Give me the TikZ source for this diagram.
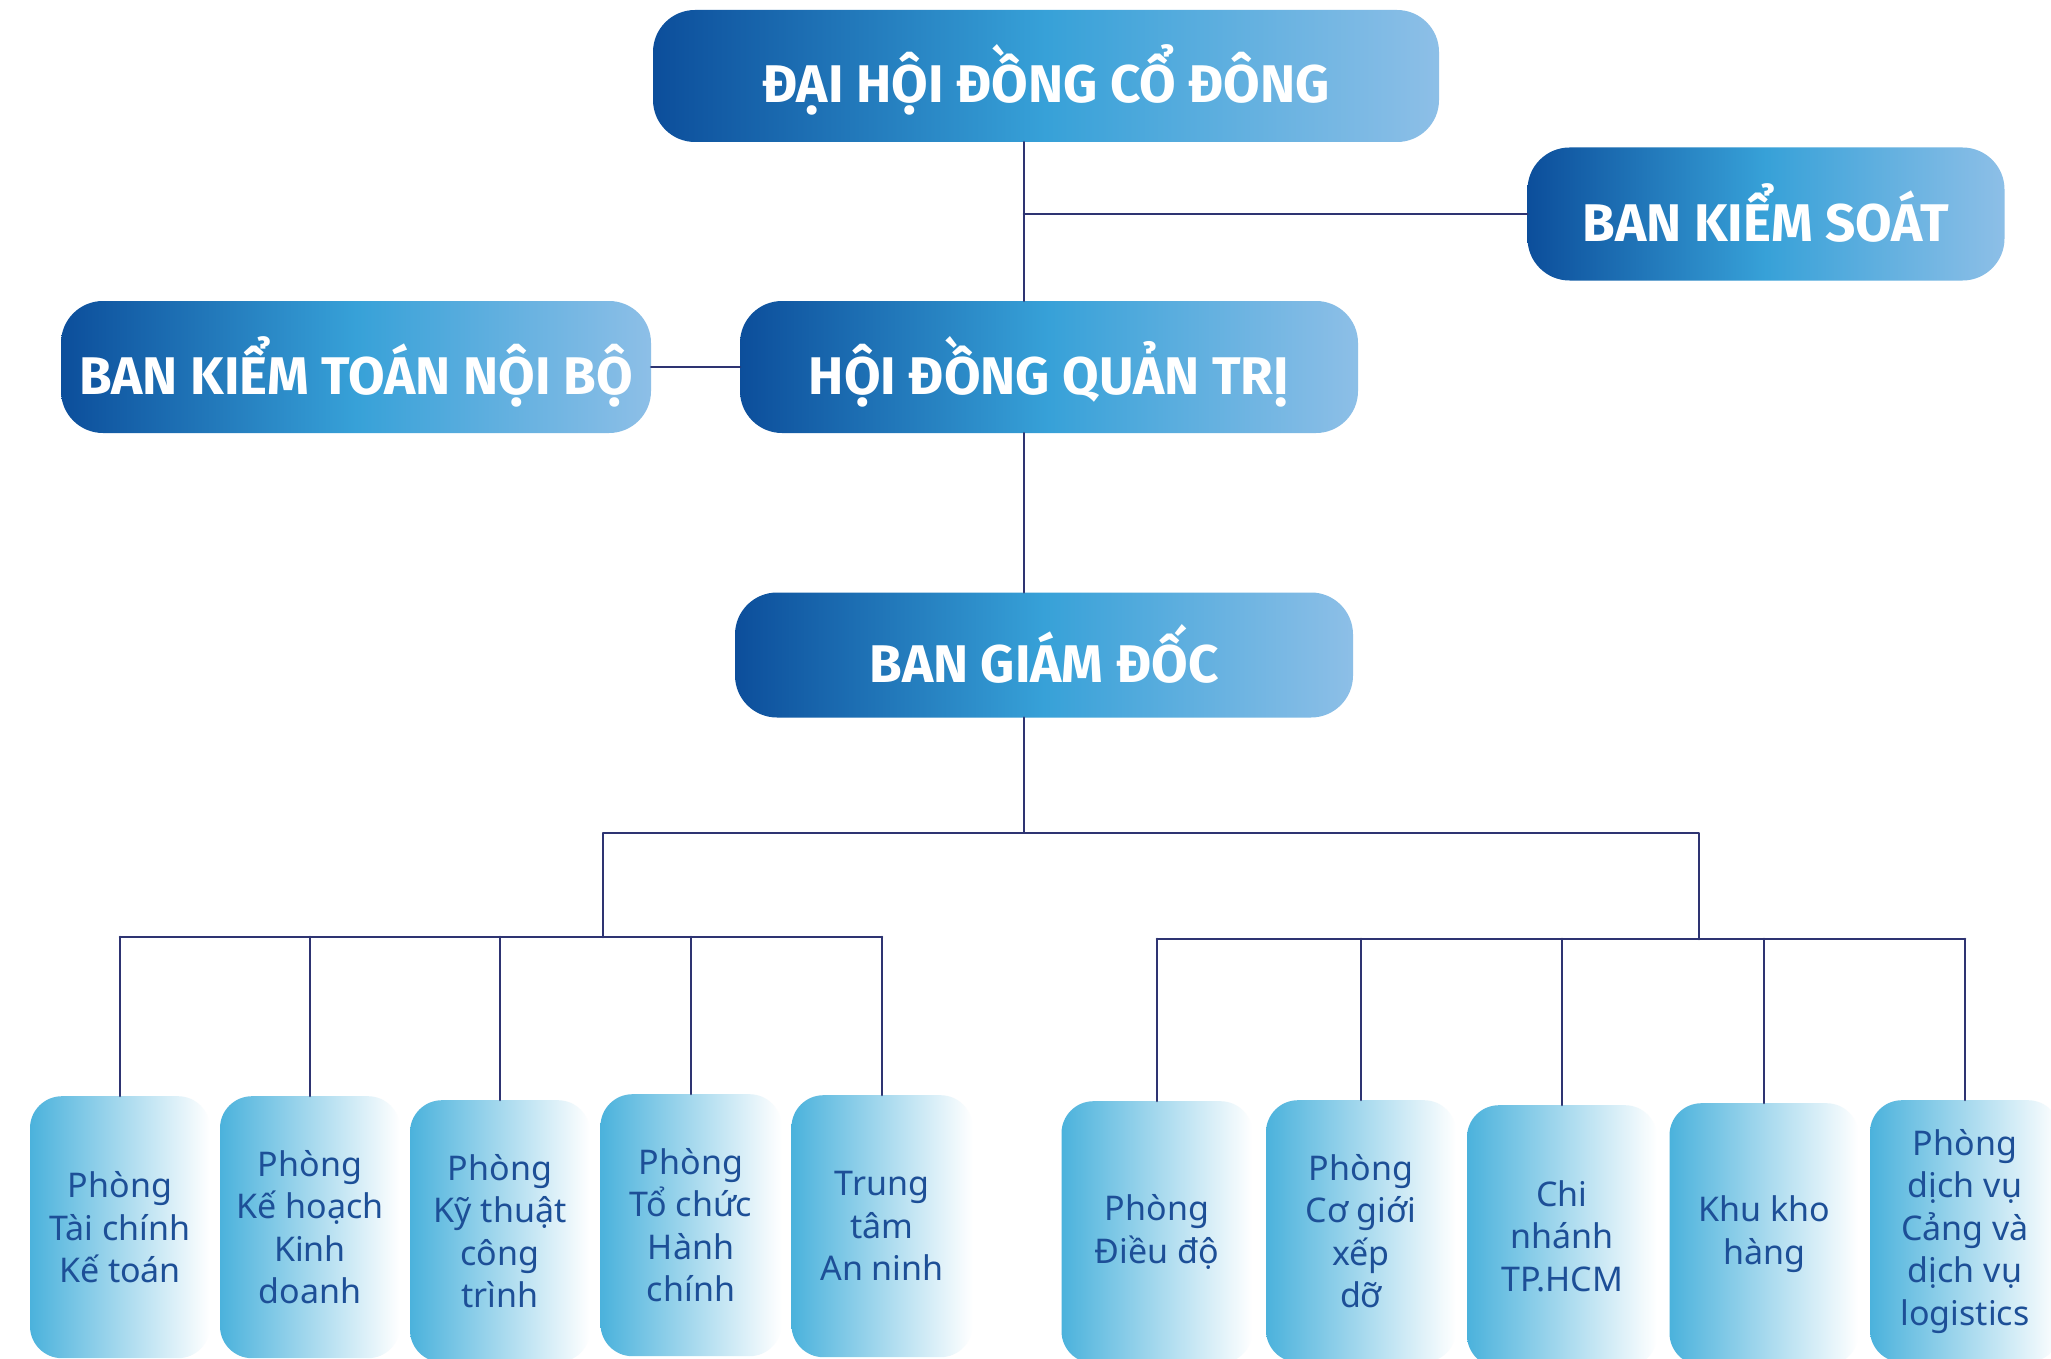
\documentclass[tikz,border=0pt]{standalone}
\usepackage{fontspec}
\setmainfont{Noto Sans}
\newfontfamily\headfont{Fira Sans}
\usetikzlibrary{positioning}
\definecolor{orgNavy}{HTML}{2E3472}
\definecolor{orgDeep}{HTML}{0C4E9B}
\definecolor{orgSky}{HTML}{37A1D8}
\definecolor{orgPale}{HTML}{8DBFE7}
\definecolor{orgAqua}{HTML}{4BB2DC}
\definecolor{orgInk}{HTML}{1D4F97}
\begin{document}
\begin{tikzpicture}[x=1pt,y=-1pt,line cap=round,line join=round]
\useasboundingbox (0,0) rectangle (2051,1359);
\path[fill=white] (0,0) rectangle (2051,1359);
\tikzset{head/.style={rounded corners=42pt,left color=orgDeep,right color=orgPale,middle color=orgSky,text=white,font=\headfont\bfseries\fontsize{53}{60}\selectfont,minimum height=132pt,text height=54pt,text depth=0pt},unit/.style={rounded corners=32pt,left color=orgAqua,right color=white,text=orgInk,font=\fontsize{34}{42.5}\selectfont,align=center,minimum height=262pt,anchor=north},link/.style={draw=orgNavy,line width=2.6pt}}
\node[head,minimum width=786pt] (dhdcd) at (1046,76) {ĐẠI HỘI ĐỒNG CỔ ĐÔNG};
\node[head,minimum width=477pt,minimum height=133pt] (bks) at (1766,214) {BAN KIỂM SOÁT};
\node[head,minimum width=590pt] (bktnb) at (356,367) {BAN KIỂM TOÁN NỘI BỘ};
\node[head,minimum width=618pt] (hdqt) at (1049,367) {HỘI ĐỒNG QUẢN TRỊ};
\node[head,minimum width=618pt,minimum height=125pt] (bgd) at (1044,655) {BAN GIÁM ĐỐC};
\node[unit,minimum width=180pt] (taichinh) at (120,1096) {Phòng\\Tài chính\\Kế toán};
\node[unit,minimum width=180pt] (kehoach) at (310,1096) {Phòng\\Kế hoạch\\Kinh\\doanh};
\node[unit,minimum width=180pt] (kythuat) at (500,1100) {Phòng\\Kỹ thuật\\công\\trình};
\node[unit,minimum width=181pt] (tochuc) at (691,1094) {Phòng\\Tổ chức\\Hành\\chính};
\node[unit,minimum width=181pt] (anninh) at (882,1095) {Trung\\tâm\\An ninh};
\node[unit,minimum width=191pt] (dieudo) at (1157,1101) {Phòng\\Điều độ};
\node[unit,minimum width=190pt] (cogioi) at (1361,1100) {Phòng\\Cơ giới\\xếp\\dỡ};
\node[unit,minimum width=190pt] (chinhanh) at (1562,1105) {Chi\\nhánh\\TP.HCM};
\node[unit,minimum width=189pt] (khohang) at (1764,1103) {Khu kho\\hàng};
\node[unit,minimum width=190pt] (cangdv) at (1965,1100) {Phòng\\dịch vụ\\Cảng và\\dịch vụ\\logistics};
\coordinate (spine) at (1024,0);
\coordinate (fork) at (1024,833);
\coordinate (lbus) at (603,937);
\coordinate (rbus) at (1699,939);
\draw[link] (dhdcd.south -| spine) -- (hdqt.north -| spine); \draw[link] (spine |- bks.west) -- (bks.west);
\draw[link] (bktnb.east) -- (hdqt.west); \draw[link] (hdqt.south -| spine) -- (bgd.north -| spine);
\draw[link] (bgd.south -| spine) -- (fork) -| (lbus); \draw[link] (fork) -| (rbus);
\draw[link] (taichinh.north |- lbus) -- (anninh.north |- lbus); \draw[link] (dieudo.north |- rbus) -- (cangdv.north |- rbus);
\foreach \n in {taichinh,kehoach,kythuat,tochuc,anninh} \draw[link] (\n.north) -- (\n.north |- lbus);
\foreach \n in {dieudo,cogioi,chinhanh,khohang,cangdv} \draw[link] (\n.north) -- (\n.north |- rbus);
\end{tikzpicture}
\end{document}
